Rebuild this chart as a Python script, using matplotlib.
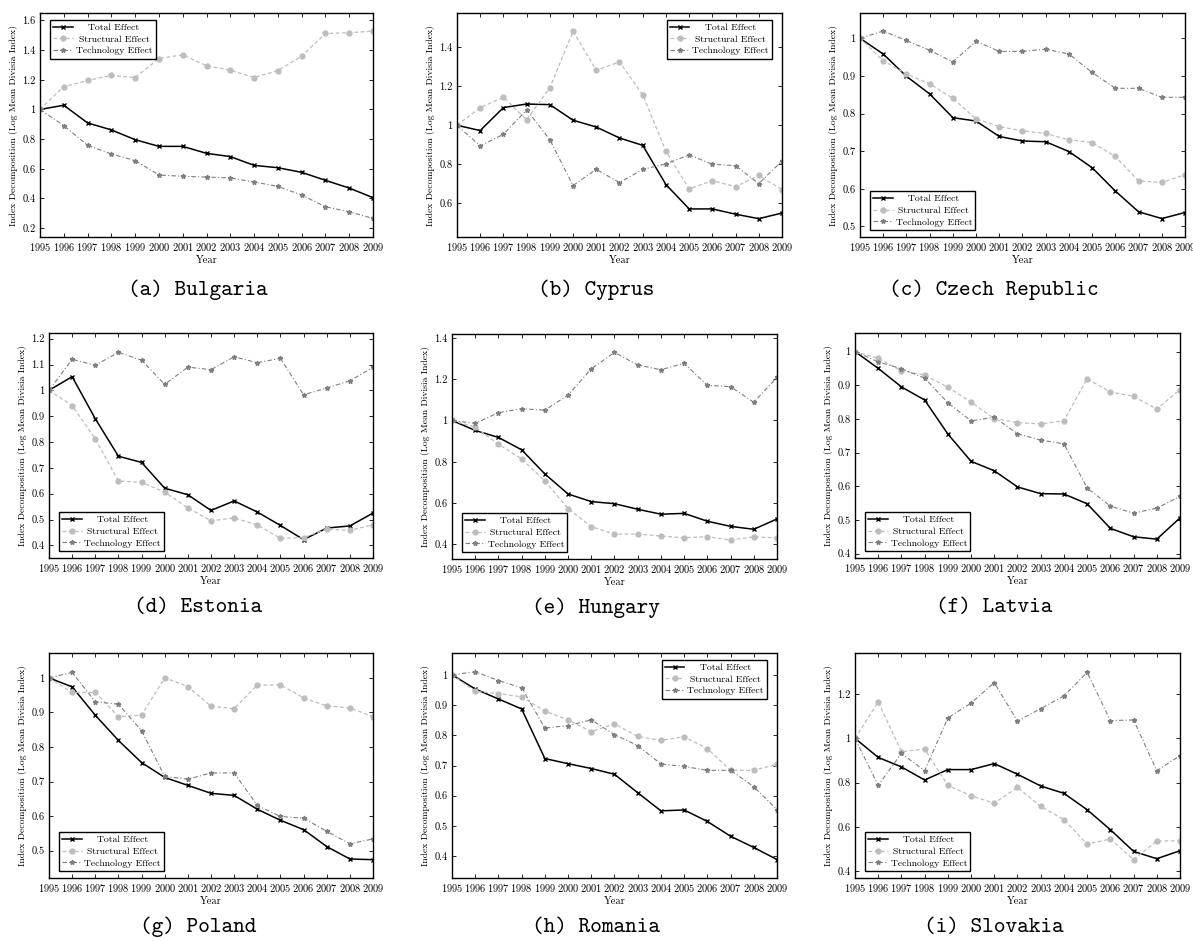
import matplotlib
matplotlib.use("Agg")
import matplotlib.pyplot as plt
from matplotlib.ticker import FuncFormatter, MultipleLocator

plt.rcParams['font.family'] = ['cmr10', 'DejaVu Serif']
plt.rcParams['axes.formatter.use_mathtext'] = True

years = list(range(1995, 2010))

countries = ["Bulgaria", "Cyprus", "Czech Republic", "Estonia", "Hungary",
             "Latvia", "Poland", "Romania", "Slovakia"]
letters = ["a", "b", "c", "d", "e", "f", "g", "h", "i"]

bulgaria_total = [1.0, 1.028, 0.909, 0.862, 0.796, 0.751, 0.751, 0.704, 0.682, 0.623, 0.607, 0.576, 0.522, 0.470, 0.405]
bulgaria_struct = [1.0, 1.154, 1.195, 1.229, 1.215, 1.343, 1.368, 1.294, 1.265, 1.215, 1.262, 1.359, 1.512, 1.517, 1.528]
bulgaria_tech = [1.0, 0.891, 0.758, 0.700, 0.655, 0.558, 0.549, 0.544, 0.538, 0.511, 0.481, 0.423, 0.344, 0.310, 0.265]

cyprus_total = [1.0, 0.973, 1.091, 1.109, 1.106, 1.026, 0.991, 0.935, 0.897, 0.696, 0.571, 0.571, 0.544, 0.521, 0.550]
cyprus_struct = [1.0, 1.091, 1.144, 1.029, 1.193, 1.482, 1.282, 1.325, 1.157, 0.867, 0.674, 0.716, 0.685, 0.743, 0.670]
cyprus_tech = [1.0, 0.894, 0.954, 1.079, 0.926, 0.691, 0.774, 0.706, 0.774, 0.802, 0.848, 0.800, 0.793, 0.701, 0.817]

czech_total = [1.0, 0.958, 0.899, 0.852, 0.789, 0.780, 0.739, 0.727, 0.725, 0.699, 0.656, 0.594, 0.539, 0.521, 0.537]
czech_struct = [1.0, 0.940, 0.905, 0.879, 0.840, 0.786, 0.765, 0.754, 0.747, 0.730, 0.723, 0.686, 0.621, 0.617, 0.637]
czech_tech = [1.0, 1.019, 0.994, 0.968, 0.937, 0.992, 0.965, 0.965, 0.971, 0.958, 0.909, 0.867, 0.867, 0.843, 0.843]

estonia_total = [1.0, 1.053, 0.890, 0.745, 0.721, 0.621, 0.596, 0.535, 0.572, 0.529, 0.477, 0.422, 0.467, 0.475, 0.525]
estonia_struct = [1.0, 0.941, 0.812, 0.649, 0.644, 0.606, 0.545, 0.495, 0.506, 0.479, 0.427, 0.430, 0.463, 0.458, 0.480]
estonia_tech = [1.0, 1.120, 1.097, 1.147, 1.117, 1.023, 1.090, 1.080, 1.130, 1.107, 1.124, 0.983, 1.009, 1.037, 1.089]

hungary_total = [1.0, 0.952, 0.918, 0.858, 0.741, 0.644, 0.607, 0.597, 0.570, 0.546, 0.550, 0.512, 0.487, 0.473, 0.523]
hungary_struct = [1.0, 0.968, 0.885, 0.814, 0.707, 0.573, 0.486, 0.449, 0.450, 0.440, 0.432, 0.437, 0.421, 0.436, 0.432]
hungary_tech = [1.0, 0.986, 1.038, 1.057, 1.050, 1.123, 1.250, 1.330, 1.269, 1.246, 1.277, 1.170, 1.164, 1.088, 1.209]

latvia_total = [1.0, 0.950, 0.895, 0.856, 0.755, 0.674, 0.646, 0.598, 0.578, 0.577, 0.548, 0.475, 0.450, 0.443, 0.506]
latvia_struct = [1.0, 0.980, 0.943, 0.930, 0.894, 0.850, 0.801, 0.789, 0.785, 0.795, 0.919, 0.880, 0.867, 0.829, 0.887]
latvia_tech = [1.0, 0.969, 0.949, 0.921, 0.848, 0.794, 0.805, 0.756, 0.737, 0.726, 0.595, 0.541, 0.520, 0.535, 0.570]

poland_total = [1.0, 0.974, 0.892, 0.819, 0.755, 0.712, 0.689, 0.666, 0.660, 0.620, 0.588, 0.561, 0.512, 0.476, 0.474]
poland_struct = [1.0, 0.958, 0.958, 0.888, 0.892, 1.0, 0.975, 0.918, 0.911, 0.979, 0.980, 0.942, 0.919, 0.913, 0.888]
poland_tech = [1.0, 1.016, 0.931, 0.924, 0.847, 0.715, 0.707, 0.725, 0.725, 0.631, 0.599, 0.594, 0.556, 0.520, 0.534]

romania_total = [1.0, 0.953, 0.920, 0.887, 0.723, 0.706, 0.690, 0.671, 0.610, 0.550, 0.553, 0.515, 0.466, 0.429, 0.389]
romania_struct = [1.0, 0.945, 0.938, 0.927, 0.880, 0.851, 0.812, 0.838, 0.796, 0.783, 0.795, 0.756, 0.684, 0.684, 0.704]
romania_tech = [1.0, 1.010, 0.981, 0.957, 0.824, 0.832, 0.851, 0.802, 0.766, 0.705, 0.697, 0.684, 0.684, 0.630, 0.554]

slovakia_total = [1.0, 0.914, 0.871, 0.812, 0.859, 0.859, 0.886, 0.838, 0.785, 0.752, 0.678, 0.588, 0.490, 0.457, 0.493]
slovakia_struct = [1.0, 1.164, 0.940, 0.952, 0.788, 0.741, 0.708, 0.779, 0.693, 0.633, 0.523, 0.546, 0.453, 0.537, 0.538]
slovakia_tech = [1.0, 0.788, 0.932, 0.854, 1.092, 1.159, 1.251, 1.078, 1.134, 1.191, 1.298, 1.080, 1.083, 0.854, 0.922]

totals = [bulgaria_total, cyprus_total, czech_total, estonia_total, hungary_total,
          latvia_total, poland_total, romania_total, slovakia_total]
structs = [bulgaria_struct, cyprus_struct, czech_struct, estonia_struct, hungary_struct,
           latvia_struct, poland_struct, romania_struct, slovakia_struct]
techs = [bulgaria_tech, cyprus_tech, czech_tech, estonia_tech, hungary_tech,
         latvia_tech, poland_tech, romania_tech, slovakia_tech]

# layout (pixels): left, right, top, bottom
W, H = 1193, 941
boxes = [(40, 373, 13, 237), (457, 782, 13, 237), (860, 1185, 13, 237),
         (49, 373, 333, 558), (452, 777, 334, 559), (855, 1180, 333, 558),
         (49, 373, 653, 878), (452, 777, 653, 878), (855, 1180, 653, 878)]
ylims = [(0.14, 1.65), (0.427, 1.576), (0.472, 1.067),
         (0.351, 1.222), (0.329, 1.419), (0.387, 1.055),
         (0.421, 1.072), (0.328, 1.072), (0.37, 1.385)]
ysteps = [0.2, 0.2, 0.1, 0.1, 0.2, 0.1, 0.1, 0.1, 0.2]
legend_locs = ["upper left", "upper right", "lower left", "lower left", "lower left",
               "lower left", "lower left", "upper right", "lower left"]
anchors = {"upper left": (0.03, 0.97), "upper right": (0.97, 0.97),
           "lower left": (0.03, 0.03)}
caption_x = [198, 596, 994]
caption_y = [290, 608, 927]

fmt = FuncFormatter(lambda v, p: ("%g" % round(v, 2)))

fig = plt.figure(figsize=(W / 100, H / 100), dpi=100)
legends = []

for i in range(9):
    l, r, t, b = boxes[i]
    ax = fig.add_axes([l / W, 1 - b / H, (r - l) / W, (b - t) / H])
    ax.plot(years, totals[i], color='black', lw=1.1, marker='x', ms=3.5, mew=1.0,
            label='Total Effect')
    ax.plot(years, structs[i], color='#bdbdbd', lw=0.9, ls=(0, (3, 2)), marker='o', ms=3.5,
            label='Structural Effect')
    ax.plot(years, techs[i], color='#7f7f7f', lw=0.8, ls=(0, (4, 2, 1, 2)), marker='*', ms=3.5,
            label='Technology Effect')
    ax.set_xlim(1995, 2009)
    ax.set_ylim(*ylims[i])
    ax.set_xticks(years)
    ax.yaxis.set_major_locator(MultipleLocator(ysteps[i]))
    ax.yaxis.set_major_formatter(fmt)
    ax.tick_params(direction='in', top=True, right=True, length=3, width=0.6,
                   labelsize=7.5, pad=3)
    for s in ax.spines.values():
        s.set_linewidth(1.0)
    ax.set_xlabel('Year', fontsize=7.5, labelpad=2)
    ax.set_ylabel('Index Decomposition (Log Mean Divisia Index)', fontsize=7, labelpad=3)
    loc = legend_locs[i]
    leg = ax.legend(loc=loc, bbox_to_anchor=anchors[loc], fontsize=7, frameon=True,
                    fancybox=False, edgecolor='black', framealpha=1, handlelength=2.0,
                    borderpad=0.35, labelspacing=0.3, handletextpad=0.3, borderaxespad=0)
    leg.get_frame().set_linewidth(1.0)
    legends.append(leg)
    fig.text(caption_x[i % 3] / W, 1 - caption_y[i // 3] / H,
             "(%s) %s" % (letters[i], countries[i]),
             ha='center', va='center', fontsize=16, family=['cmtt10', 'DejaVu Sans Mono'])

# center legend texts in their column (pgfplots style)
fig.canvas.draw()
renderer = fig.canvas.get_renderer()
for leg in legends:
    widths = [t.get_window_extent(renderer).width for t in leg.get_texts()]
    wmax = max(widths)
    items = []
    for col in leg._legend_handle_box.get_children():
        items.extend(col.get_children())
    for item, w in zip(items, widths):
        item.sep = item.sep + (wmax - w) / 2 * 72.0 / fig.dpi

fig.savefig('out.png', dpi=100)
